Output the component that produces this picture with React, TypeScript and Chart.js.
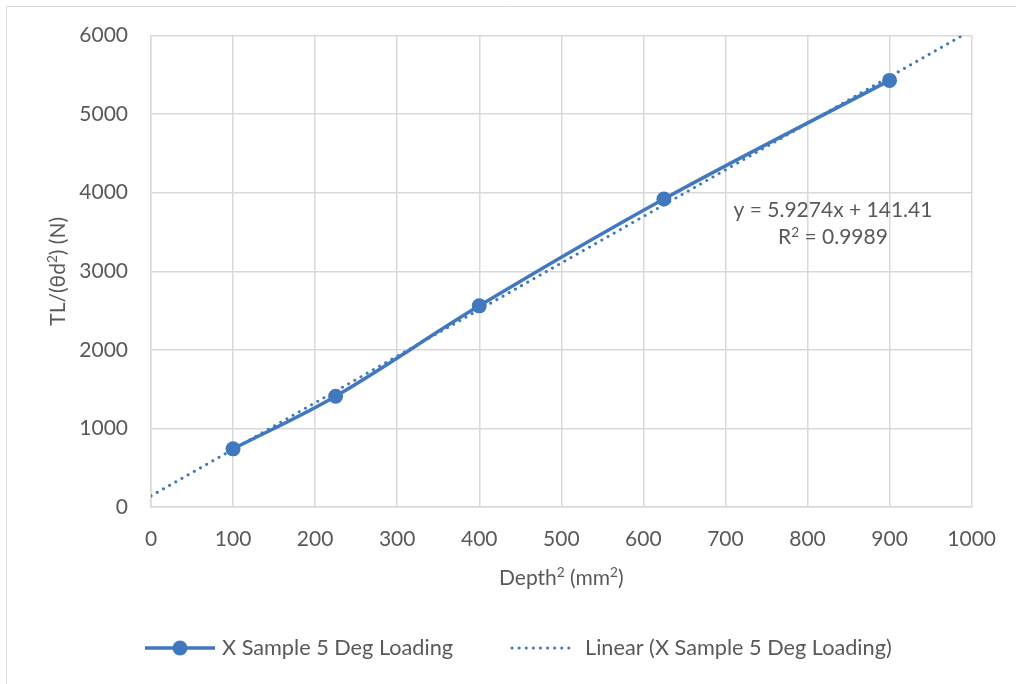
import React, { useEffect, useRef } from "react";
import { Chart, registerables } from "chart.js";

Chart.register(...registerables);

const SERIES_LABEL = "X Sample 5 Deg Loading";
const TREND_LABEL = "Linear (X Sample 5 Deg Loading)";
const X_TITLE = "Depth² (mm²)";
const Y_TITLE = "TL/(θd²) (N)";
const depthSq = [100, 225, 400, 625, 900];
const tlValues = [740, 1410, 2560, 3920, 5430];
const TREND_SLOPE = 5.9274;
const TREND_INTERCEPT = 141.41;
const TREND_X = [0, 1000];
const EQUATION_LINES = ["y = 5.9274x + 141.41", "R² = 0.9989"];
const X_TICKS = [0, 100, 200, 300, 400, 500, 600, 700, 800, 900, 1000];
const Y_TICKS = [0, 1000, 2000, 3000, 4000, 5000, 6000];

const BLUE = "#4178BE";
const GRID = "#D9D9D9";
const TEXT = "#595959";
const FONT = "Lato, 'Open Sans', sans-serif";
const FS = 21;
const LEG_FS = 21.7;

// draw text where "²" is rendered as a raised smaller "2"; centered at (0,0) with middle baseline
function richWidth(ctx: CanvasRenderingContext2D, text: string, fs: number) {
  let w = 0;
  for (const part of text.split(/(²)/)) {
    if (!part) continue;
    if (part === "²") {
      ctx.font = `${fs * 0.65}px ${FONT}`;
      w += ctx.measureText("2").width;
    } else {
      ctx.font = `${fs}px ${FONT}`;
      w += ctx.measureText(part).width;
    }
  }
  return w;
}
function drawRich(ctx: CanvasRenderingContext2D, text: string, x: number, y: number, fs: number, align: "center" | "left") {
  const total = richWidth(ctx, text, fs);
  let cx = align === "center" ? x - total / 2 : x;
  ctx.textAlign = "left";
  ctx.textBaseline = "alphabetic";
  const base = y + fs * 0.33;
  for (const part of text.split(/(²)/)) {
    if (!part) continue;
    if (part === "²") {
      ctx.font = `${fs * 0.65}px ${FONT}`;
      ctx.fillText("2", cx, base - fs * 0.36);
      cx += ctx.measureText("2").width;
    } else {
      ctx.font = `${fs}px ${FONT}`;
      ctx.fillText(part, cx, base);
      cx += ctx.measureText(part).width;
    }
  }
}

export default function App() {
  const ref = useRef<HTMLCanvasElement | null>(null);

  useEffect(() => {
    document.body.style.margin = "0";
    const canvas = ref.current;
    if (!canvas) return;

    const framePlugin = {
      id: "frame",
      beforeDraw(chart: any) {
        const ctx = chart.ctx;
        ctx.save();
        ctx.fillStyle = "#ffffff";
        ctx.fillRect(0, 0, chart.width, chart.height);
        ctx.strokeStyle = GRID;
        ctx.lineWidth = 1;
        ctx.beginPath();
        ctx.moveTo(6.5, chart.height);
        ctx.lineTo(6.5, 6.5);
        ctx.lineTo(chart.width, 6.5);
        ctx.stroke();
        ctx.restore();
      },
      afterDraw(chart: any) {
        const ctx = chart.ctx;
        const xs = chart.scales.x;
        const ys = chart.scales.y;
        const area = chart.chartArea;
        ctx.save();
        ctx.fillStyle = TEXT;

        // axis titles
        drawRich(ctx, X_TITLE, (area.left + area.right) / 2, 578, FS, "center");
        ctx.save();
        ctx.translate(58, (area.top + area.bottom) / 2);
        ctx.rotate(-Math.PI / 2);
        drawRich(ctx, Y_TITLE, 0, 0, FS, "center");
        ctx.restore();

        // equation label
        const ex = xs.getPixelForValue(831);
        const ey = ys.getPixelForValue(3775);
        EQUATION_LINES.forEach((t, i) => drawRich(ctx, t, ex, ey + i * 27, FS, "center"));

        // legend
        const ly = 648;
        // series item
        ctx.strokeStyle = BLUE;
        ctx.lineWidth = 3.5;
        ctx.lineCap = "butt";
        ctx.beginPath();
        ctx.moveTo(145, ly);
        ctx.lineTo(215, ly);
        ctx.stroke();
        ctx.fillStyle = BLUE;
        ctx.beginPath();
        ctx.arc(180, ly, 7.5, 0, Math.PI * 2);
        ctx.fill();
        ctx.fillStyle = TEXT;
        drawRich(ctx, chart.data.datasets[1].label, 222, ly, LEG_FS, "left");
        // trend item
        ctx.strokeStyle = BLUE;
        ctx.lineWidth = 3;
        ctx.lineCap = "round";
        ctx.setLineDash([0.1, 7]);
        ctx.beginPath();
        ctx.moveTo(512, ly);
        ctx.lineTo(575, ly);
        ctx.stroke();
        ctx.setLineDash([]);
        ctx.fillStyle = TEXT;
        drawRich(ctx, chart.data.datasets[0].label, 585, ly, LEG_FS, "left");
        ctx.restore();
      },
    };

    const chart = new Chart(canvas, {
      type: "scatter",
      data: {
        datasets: [
          {
            label: TREND_LABEL,
            data: TREND_X.map((x) => ({ x, y: TREND_SLOPE * x + TREND_INTERCEPT })),
            showLine: true,
            borderColor: BLUE,
            borderWidth: 3,
            borderDash: [0.1, 7],
            borderCapStyle: "round",
            pointRadius: 0,
            order: 0,
          },
          {
            label: SERIES_LABEL,
            data: depthSq.map((x, i) => ({ x, y: tlValues[i] })),
            showLine: true,
            borderColor: BLUE,
            backgroundColor: BLUE,
            borderWidth: 3.5,
            tension: 0.35,
            pointRadius: 7.5,
            pointBorderWidth: 0,
            order: 1,
          },
        ],
      },
      options: {
        animation: false,
        responsive: false,
        layout: { padding: { left: 0, right: 43, top: 35, bottom: 82 } },
        plugins: {
          legend: { display: false },
          tooltip: { enabled: false },
        },
        scales: {
          x: {
            type: "linear",
            min: 0,
            max: 1000,
            afterBuildTicks: (s: any) => {
              s.ticks = X_TICKS.map((v) => ({ value: v }));
            },
            afterFit: (s: any) => {
              s.height = 95;
            },
            grid: { color: GRID, lineWidth: 1.5, drawTicks: false },
            border: { color: GRID, width: 1.5 },
            ticks: {
              color: TEXT,
              font: { family: FONT, size: FS },
              padding: 20,
              maxRotation: 0,
              callback: (v: any) => String(v),
            },
            title: { display: false },
          },
          y: {
            type: "linear",
            min: 0,
            max: 6000,
            afterBuildTicks: (s: any) => {
              s.ticks = Y_TICKS.map((v) => ({ value: v }));
            },
            afterFit: (s: any) => {
              s.width = 151;
            },
            grid: { color: GRID, lineWidth: 1.5, drawTicks: false },
            border: { color: GRID, width: 1.5 },
            ticks: {
              color: TEXT,
              font: { family: FONT, size: FS },
              padding: 23,
              callback: (v: any) => String(v),
            },
            title: { display: false },
          },
        },
      },
      plugins: [framePlugin],
    });

    return () => chart.destroy();
  }, []);

  return (
    <div style={{ width: 1016, height: 684 }}>
      <canvas ref={ref} width={1016} height={684} style={{ display: "block" }} />
    </div>
  );
}
